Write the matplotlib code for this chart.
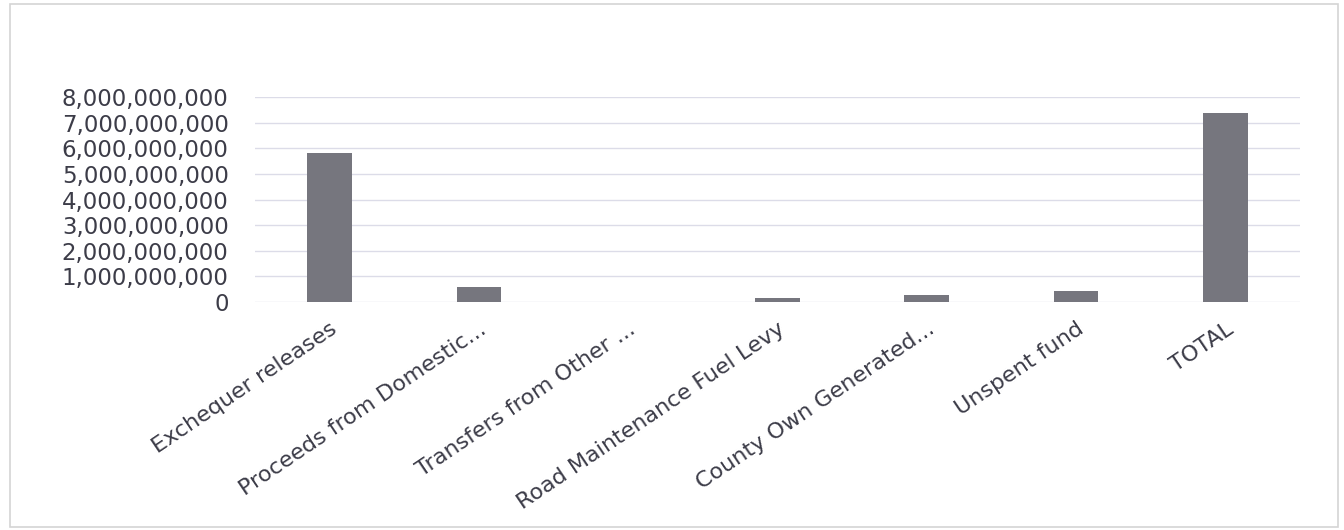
import matplotlib.pyplot as plt
from matplotlib.patches import Rectangle
from matplotlib.ticker import FuncFormatter

categories = ['Exchequer releases', 'Proceeds from Domestic...', 'Transfers from Other ...',
              'Road Maintenance Fuel Levy', 'County Own Generated...', 'Unspent fund', 'TOTAL']
values = [5.8e9, 0.6e9, 0, 0.15e9, 0.27e9, 0.44e9, 7.36e9]
yticks = [0, 1e9, 2e9, 3e9, 4e9, 5e9, 6e9, 7e9, 8e9]

plt.rcParams['font.family'] = ['DejaVu Sans']

fig = plt.figure(figsize=(13.44, 5.30), dpi=100)
fig.patches.append(Rectangle((10 / 1344, 3 / 530), 1328 / 1344, 523 / 530,
                             transform=fig.transFigure, fill=False,
                             edgecolor='#d4d4d4', linewidth=1.2))

ax = fig.add_axes([255 / 1344, 1 - 302 / 530, 1045 / 1344, 205 / 530])
ax.bar(range(len(categories)), values, width=0.3, color='#76767e',
       edgecolor='#5a5a62', linewidth=0, zorder=3)

ax.set_xlim(-0.5, len(categories) - 0.5)
ax.set_ylim(0, 8e9)
ax.set_yticks(yticks)
ax.yaxis.set_major_formatter(FuncFormatter(lambda v, p: '{:,.0f}'.format(v)))
ax.grid(axis='y', color='#dcdce8', linewidth=1, zorder=0)
for s in ax.spines.values():
    s.set_visible(False)
ax.tick_params(axis='both', length=0, labelcolor='#3c3c48')
ax.tick_params(axis='y', pad=19, labelsize=16.5)

ax.set_xticks(range(len(categories)))
ax.set_xticklabels(categories, rotation=34, ha='right', rotation_mode='anchor')
ax.tick_params(axis='x', pad=12, labelsize=16)
for lbl in ax.get_xticklabels():
    lbl.set_x(lbl.get_position()[0] + 0.05)

fig.savefig('out.png', dpi=100, facecolor='white')
